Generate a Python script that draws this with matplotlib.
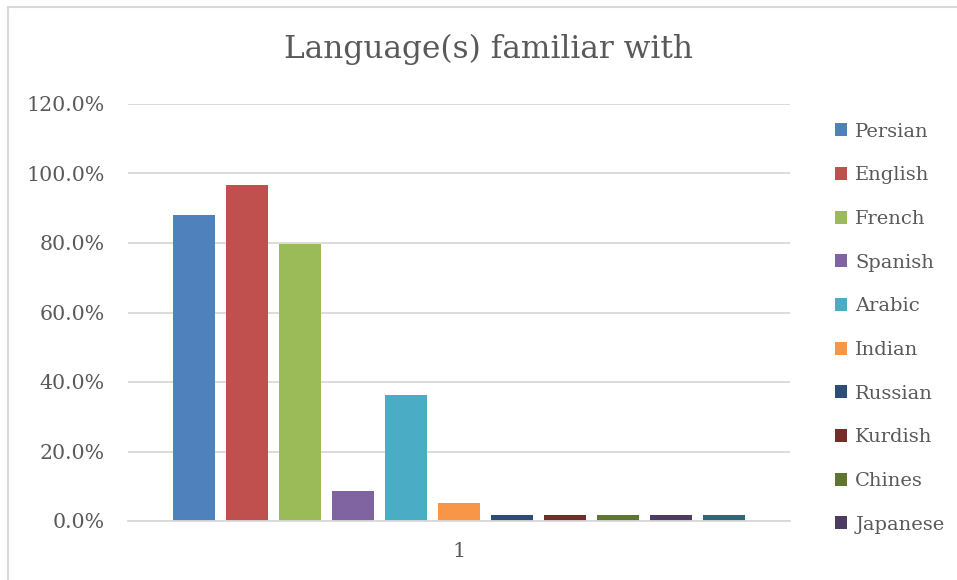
import numpy as np
import matplotlib
matplotlib.use("Agg")
from matplotlib import pyplot as plt
from matplotlib.patches import Rectangle

# данные
languages = ["Persian", "English", "French", "Spanish", "Arabic", "Indian",
             "Russian", "Kurdish", "Chines", "Japanese", "Other"]
percents = [88.1, 96.6, 79.7, 8.5, 36.4, 5.1, 1.7, 1.7, 1.7, 1.7, 1.7]
colors = ["#4F81BD", "#C0504D", "#9BBB59", "#8064A2", "#4BACC6", "#F79646",
          "#2C4D75", "#772C2A", "#5F7530", "#4D3B62", "#276A7C"]
yticks = [0, 20, 40, 60, 80, 100, 120]
category = "1"
title = "Language(s) familiar with"

plt.rcParams['font.family'] = ['DejaVu Serif']
grey = "#595959"

fig = plt.figure(figsize=(9.57, 5.80), dpi=100)
ax = fig.add_axes([128/957, 1-521/580, 662/957, 417/580])

x = np.arange(len(languages))
for i in range(len(languages)):
    ax.bar(x[i], percents[i], width=0.79, color=colors[i], label=languages[i], zorder=3)

ax.set_xlim(-1.245, len(languages) - 1 + 1.245)
ax.set_ylim(0, 120)
ax.set_yticks(yticks)
ax.set_yticklabels(["%.1f%%" % v for v in yticks], color=grey, fontsize=14.8)
ax.set_xticks([(len(languages) - 1) / 2])
ax.set_xticklabels([category], color=grey, fontsize=14.8)
ax.tick_params(axis='y', length=0, pad=17)
ax.tick_params(axis='x', length=0, pad=15)
ax.grid(axis='y', color="#D9D9D9", linewidth=1.3, zorder=0)
for s in ["top", "right", "left"]:
    ax.spines[s].set_visible(False)
ax.spines["bottom"].set_color("#D9D9D9")
ax.spines["bottom"].set_linewidth(1.3)
ax.spines["bottom"].set_zorder(4)

fig.text(489/957, 1-49/580, title, ha='center', va='center', fontsize=22.5, color=grey)

# легенда - влезло только 10
h, l = ax.get_legend_handles_labels()
fig.legend(h[:10], l[:10], loc='upper left', bbox_to_anchor=(827/957, 1-115/580),
           frameon=False, fontsize=14, labelcolor=grey, handlelength=0.65,
           handleheight=0.65, handletextpad=0.4, labelspacing=1.32, borderaxespad=0)

# рамка
fig.patches.append(Rectangle((8/957, -0.1), 1.2, 1.1 - 6.5/580, transform=fig.transFigure,
                             fill=False, edgecolor="#D9D9D9", linewidth=1.5))

fig.savefig("out.png", dpi=100)
